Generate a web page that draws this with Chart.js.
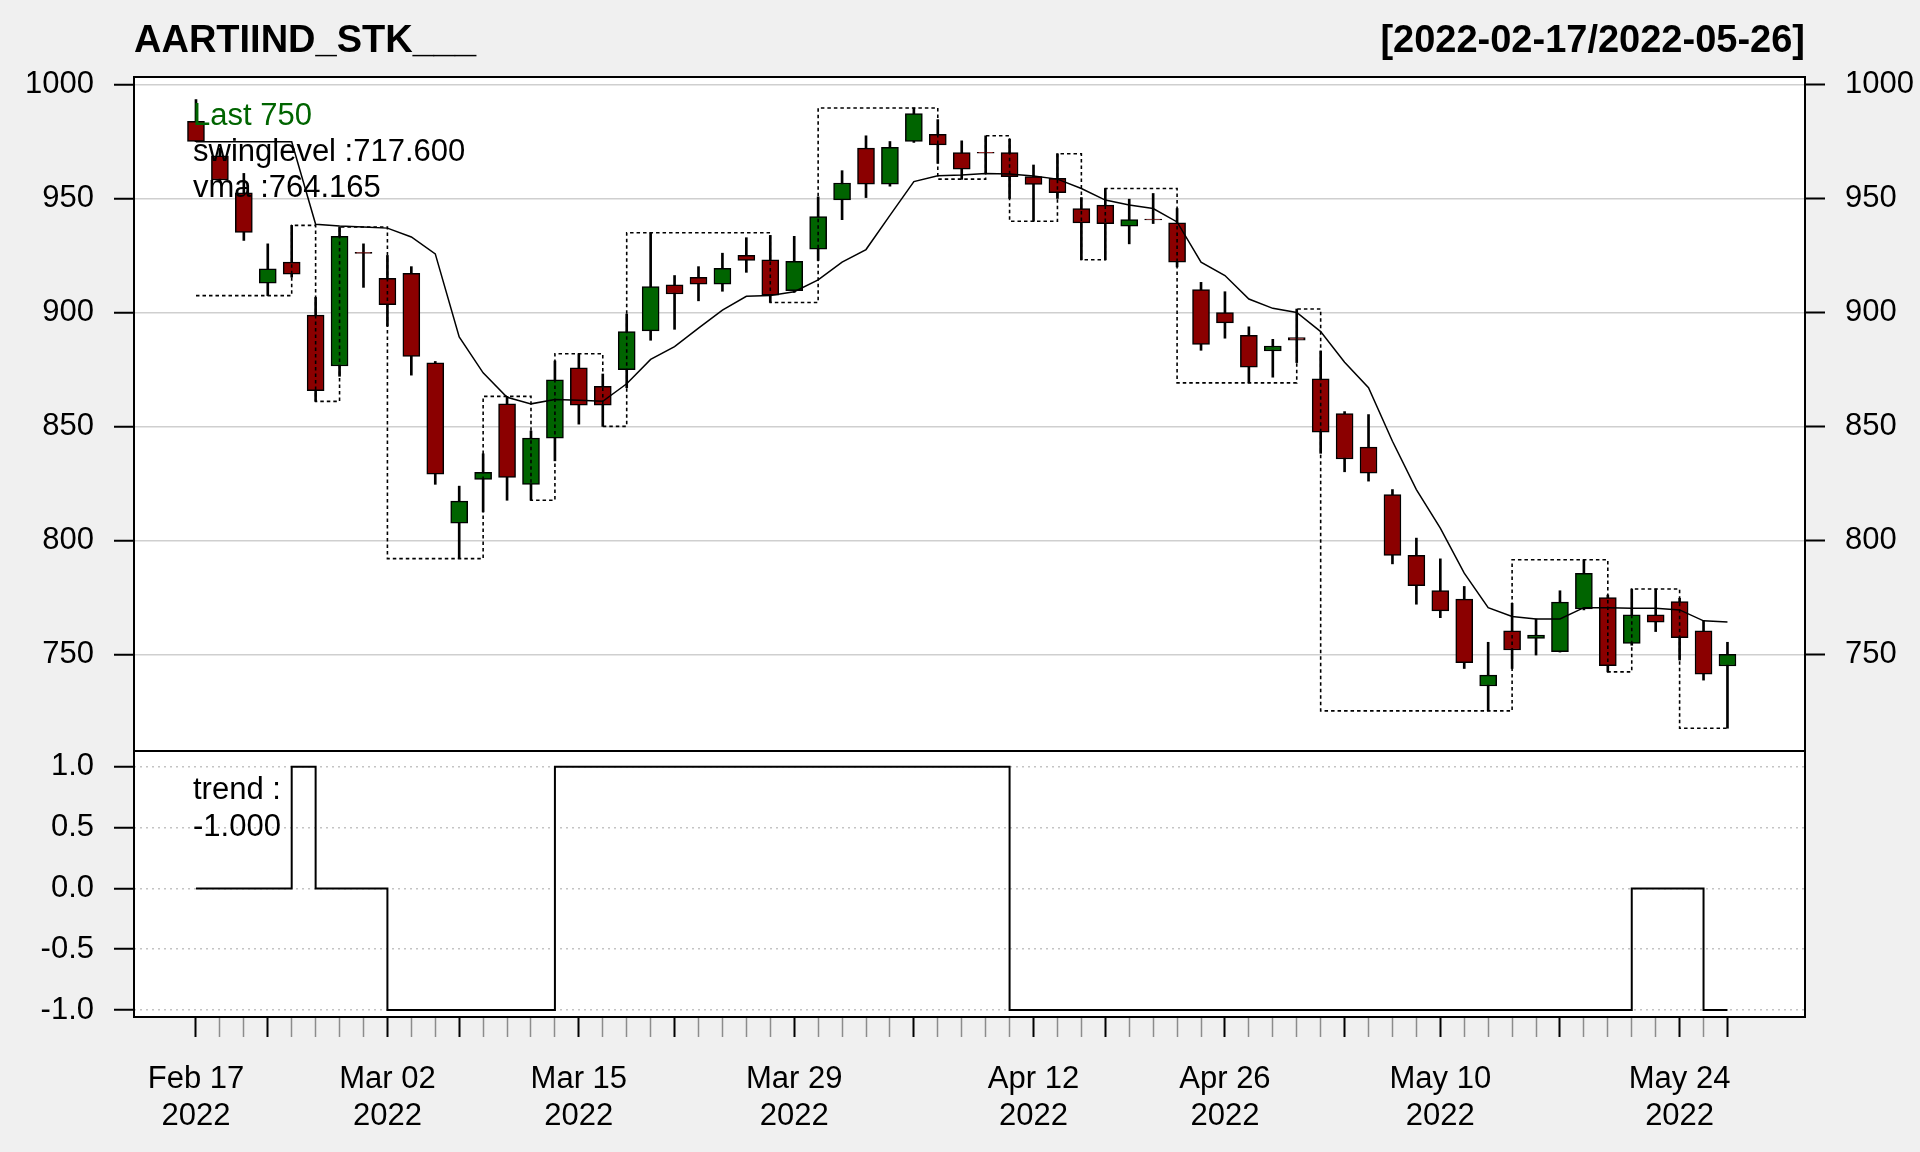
<!DOCTYPE html>
<html>
<head>
<meta charset="utf-8">
<script src="https://cdn.jsdelivr.net/npm/chart.js@4.4.1/dist/chart.umd.min.js"></script>
<style>
  html, body { margin: 0; padding: 0; background: #f0f0f0; }
  #wrap { position: relative; width: 1920px; height: 1152px; overflow: hidden; }
  #wrap canvas { position: absolute; left: 0; }
  #price { top: 0; }
  #trend { top: 711px; }
</style>
</head>
<body>
<div id="wrap">
  <canvas id="price" width="1920" height="791"></canvas>
  <canvas id="trend" width="1920" height="441"></canvas>
</div>
<script>
// Chart data
const symbol = 'AARTIIND_STK___';
const dates = [
  '2022-02-17', '2022-02-18', '2022-02-21', '2022-02-22', '2022-02-23', '2022-02-24', '2022-02-25', '2022-02-28',
  '2022-03-02', '2022-03-03', '2022-03-07', '2022-03-08', '2022-03-09', '2022-03-10', '2022-03-11', '2022-03-14',
  '2022-03-15', '2022-03-16', '2022-03-17', '2022-03-21', '2022-03-22', '2022-03-23', '2022-03-24', '2022-03-25',
  '2022-03-28', '2022-03-29', '2022-03-30', '2022-03-31', '2022-04-01', '2022-04-04', '2022-04-05', '2022-04-06',
  '2022-04-07', '2022-04-08', '2022-04-11', '2022-04-12', '2022-04-13', '2022-04-18', '2022-04-19', '2022-04-20',
  '2022-04-21', '2022-04-22', '2022-04-25', '2022-04-26', '2022-04-27', '2022-04-28', '2022-04-29', '2022-05-02',
  '2022-05-04', '2022-05-05', '2022-05-06', '2022-05-09', '2022-05-10', '2022-05-11', '2022-05-12', '2022-05-13',
  '2022-05-16', '2022-05-17', '2022-05-18', '2022-05-19', '2022-05-20', '2022-05-23', '2022-05-24', '2022-05-25',
  '2022-05-26'
];

const open = [
  983.8, 968.7, 952.5, 912.9, 922.1, 898.8, 876.5, 926.4, 915.0, 917.2, 877.9, 807.6, 826.8, 859.9, 824.6, 844.9,
  875.7, 867.6, 874.9, 891.9, 912.1, 915.4, 912.4, 925.1, 923.1, 909.6, 927.8, 949.4, 972.1, 956.3, 975.0, 978.2,
  970.1, 970.3, 970.1, 959.6, 958.8, 945.6, 947.1, 937.9, 941.0, 939.3, 910.0, 900.0, 890.0, 883.1, 889.0, 870.9,
  855.6, 840.9, 820.1, 793.4, 778.0, 774.2, 736.1, 760.3, 757.0, 751.2, 769.9, 774.9, 754.8, 767.3, 773.2, 760.3,
  744.9
];
const high = [
  993.4, 972.0, 961.0, 930.1, 938.2, 906.6, 937.5, 930.1, 925.0, 920.1, 878.5, 823.8, 838.0, 863.2, 848.0, 878.7,
  881.9, 873.0, 899.3, 935.0, 916.2, 920.1, 926.0, 932.8, 933.8, 933.4, 950.7, 962.2, 977.5, 975.0, 989.7, 984.6,
  975.3, 977.5, 976.0, 964.7, 969.6, 950.4, 954.4, 949.7, 952.2, 945.6, 913.2, 909.1, 893.7, 888.2, 901.5, 883.1,
  856.5, 855.2, 822.3, 801.0, 791.9, 779.8, 755.3, 772.4, 765.5, 777.9, 791.5, 776.0, 778.7, 778.7, 774.6, 764.7,
  755.3
];
const low = [
  974.9, 957.5, 931.6, 907.4, 915.5, 861.0, 872.0, 911.0, 894.0, 872.5, 824.6, 792.0, 812.5, 817.6, 817.6, 834.9,
  851.0, 850.0, 867.0, 887.8, 892.6, 905.1, 909.3, 917.6, 904.4, 908.8, 922.8, 940.7, 950.4, 955.4, 974.6, 965.4,
  958.4, 961.0, 950.0, 940.0, 950.0, 923.1, 923.1, 930.1, 939.0, 920.0, 883.4, 888.7, 869.1, 871.6, 878.0, 838.2,
  830.1, 826.0, 789.7, 772.0, 766.1, 743.8, 725.2, 743.8, 749.7, 751.0, 769.5, 742.3, 754.0, 760.0, 747.5, 738.7,
  717.6
];
const close = [
  975.0, 958.1, 935.1, 919.1, 916.8, 865.7, 933.4, 925.9, 903.4, 880.7, 829.1, 817.2, 829.9, 827.6, 844.9, 870.4,
  859.3, 859.3, 891.6, 911.3, 908.1, 912.4, 919.4, 922.8, 907.6, 922.4, 942.1, 956.8, 956.3, 972.4, 987.2, 973.5,
  962.9, 969.9, 959.6, 956.2, 952.6, 939.3, 939.0, 940.7, 940.6, 922.1, 886.0, 895.4, 876.0, 885.3, 887.8, 847.5,
  835.7, 829.5, 793.4, 780.1, 769.1, 746.3, 740.9, 751.9, 758.5, 772.9, 785.6, 745.0, 767.3, 764.1, 757.3, 741.3,
  750.0
];
const vma = [
  974.9, 974.9, 974.9, 974.9, 974.9, 938.7, 937.9, 937.5, 937.0, 933.1, 925.7, 889.3, 873.5, 862.8, 859.9, 861.8,
  861.5, 861.0, 868.7, 879.4, 885.0, 893.1, 901.0, 907.1, 907.4, 909.1, 914.3, 922.1, 927.6, 942.6, 957.4, 960.0,
  960.3, 961.0, 960.7, 959.9, 958.5, 954.4, 949.3, 947.1, 945.6, 939.7, 922.1, 916.2, 905.9, 901.8, 900.0, 891.6,
  878.2, 867.0, 843.5, 822.3, 805.4, 785.6, 770.5, 766.6, 765.5, 765.5, 770.5, 770.5, 770.2, 770.2, 769.5, 764.7,
  764.165
];
const swinglevel = [
  907.4, 907.4, 907.4, 907.4, 938.2, 861.0, 937.5, 937.5, 792.0, 792.0, 792.0, 792.0, 863.2, 863.2, 817.6, 881.9,
  881.9, 850.0, 935.0, 935.0, 935.0, 935.0, 935.0, 935.0, 904.4, 904.4, 989.7, 989.7, 989.7, 989.7, 989.7, 958.5,
  958.5, 977.5, 940.0, 940.0, 969.6, 923.1, 954.4, 954.4, 954.4, 869.1, 869.1, 869.1, 869.1, 869.1, 901.5, 725.2,
  725.2, 725.2, 725.2, 725.2, 725.2, 725.2, 725.2, 791.5, 791.5, 791.5, 791.5, 742.3, 778.7, 778.7, 717.6, 717.6,
  717.6
];
const trend = [
  0, 0, 0, 0, 1, 0, 0, 0, -1, -1, -1, -1, -1, -1, -1, 1,
  1, 1, 1, 1, 1, 1, 1, 1, 1, 1, 1, 1, 1, 1, 1, 1,
  1, 1, -1, -1, -1, -1, -1, -1, -1, -1, -1, -1, -1, -1, -1, -1,
  -1, -1, -1, -1, -1, -1, -1, -1, -1, -1, -1, -1, 0, 0, 0, -1,
  -1
];

// Axis ticks
const priceTicks = [750, 800, 850, 900, 950, 1000];
const trendTicks = [-1, -0.5, 0, 0.5, 1];
const labelDates = ['2022-02-17', '2022-03-02', '2022-03-15', '2022-03-29', '2022-04-12', '2022-04-26', '2022-05-10', '2022-05-24'];
const majorDates = ['2022-02-17', '2022-02-22', '2022-03-02', '2022-03-08', '2022-03-15', '2022-03-22', '2022-03-29',
  '2022-04-05', '2022-04-12', '2022-04-19', '2022-04-26', '2022-05-04', '2022-05-10', '2022-05-17', '2022-05-24', '2022-05-26'];

const MONTHS = ['Jan', 'Feb', 'Mar', 'Apr', 'May', 'Jun', 'Jul', 'Aug', 'Sep', 'Oct', 'Nov', 'Dec'];
const FONT = '"Liberation Sans", Arial, Helvetica, sans-serif';
const RED = '#8b0000';
const GREEN = '#006400';

// index range shown on the x axis
const xMin = -2.59;
const xMax = 67.24;

const idx = dates.map((d, i) => i);
const last = dates.length - 1;

function dateLabel(i) {
  const p = dates[i].split('-');
  return [MONTHS[+p[1] - 1] + ' ' + p[2], p[0]];
}

// white panel, black frame and text
const panelPlugin = {
  id: 'panel',
  beforeDraw(chart) {
    const a = chart.chartArea, ctx = chart.ctx;
    ctx.save();
    ctx.fillStyle = '#ffffff';
    ctx.fillRect(a.left, a.top, a.right - a.left, a.bottom - a.top);
    ctx.restore();
  },
  afterDraw(chart, args, opts) {
    const a = chart.chartArea, ctx = chart.ctx;
    ctx.save();
    ctx.strokeStyle = '#000';
    ctx.lineWidth = 2;
    ctx.strokeRect(a.left, a.top, a.right - a.left, a.bottom - a.top);
    (opts.texts || []).forEach(t => {
      ctx.font = t.font;
      ctx.fillStyle = t.color || '#000';
      ctx.textAlign = t.align || 'left';
      ctx.textBaseline = 'alphabetic';
      const x = t.align === 'right' ? a.right + t.dx : a.left + t.dx;
      ctx.fillText(t.text, x, a.top + t.dy);
    });
    ctx.restore();
  }
};

const tickFont = { family: FONT, size: 31 };

// Price panel
const priceChart = new Chart(document.getElementById('price'), {
  type: 'bar',
  data: {
    datasets: [
      {
        type: 'line',
        label: 'vma',
        data: idx.map(i => ({ x: i, y: vma[i] })),
        borderColor: '#000',
        borderWidth: 1.5,
        pointRadius: 0,
        tension: 0,
        order: 0
      },
      {
        type: 'line',
        label: 'swinglevel',
        data: idx.map(i => ({ x: i, y: swinglevel[i] })),
        borderColor: '#000',
        borderWidth: 1.6,
        borderDash: [3.5, 3],
        stepped: true,
        pointRadius: 0,
        order: 0
      },
      {
        label: 'body',
        data: idx.map(i => ({ x: i, y: [open[i], close[i]] })),
        backgroundColor: idx.map(i => close[i] >= open[i] ? GREEN : RED),
        borderColor: '#000',
        borderWidth: 1.5,
        borderSkipped: false,
        barThickness: 17,
        grouped: false,
        order: 1
      },
      {
        label: 'wick',
        data: idx.map(i => ({ x: i, y: [low[i], high[i]] })),
        backgroundColor: '#000',
        borderWidth: 0,
        barThickness: 2,
        grouped: false,
        order: 2
      }
    ]
  },
  options: {
    responsive: false,
    animation: false,
    devicePixelRatio: 1,
    layout: { padding: { top: 77, bottom: 40, left: 0, right: 0 } },
    plugins: {
      legend: { display: false },
      tooltip: { enabled: false },
      panel: {
        texts: [
          { text: symbol, font: 'bold 38px ' + FONT, dx: 0, dy: -25 },
          { text: '[' + dates[0] + '/' + dates[last] + ']', font: 'bold 38px ' + FONT, align: 'right', dx: 0, dy: -25 },
          { text: 'Last ' + close[last], font: '31px ' + FONT, color: GREEN, dx: 59, dy: 48 },
          { text: 'swinglevel :' + swinglevel[last].toFixed(3), font: '31px ' + FONT, dx: 59, dy: 84 },
          { text: 'vma :' + vma[last].toFixed(3), font: '31px ' + FONT, dx: 59, dy: 120 }
        ]
      }
    },
    scales: {
      x: { type: 'linear', min: xMin, max: xMax, offset: false, display: false },
      y: {
        position: 'left',
        min: 707.6,
        max: 1003.3,
        afterBuildTicks: s => { s.ticks = priceTicks.map(v => ({ value: v })); },
        afterFit: s => { s.width = 134; },
        grid: { color: '#cfcfcf', lineWidth: 1.5, tickColor: '#000', tickWidth: 2, tickLength: 20 },
        border: { display: false },
        ticks: { font: tickFont, color: '#000', padding: 20, callback: v => String(v) }
      },
      yRight: {
        position: 'right',
        min: 707.6,
        max: 1003.3,
        afterBuildTicks: s => { s.ticks = priceTicks.map(v => ({ value: v })); },
        afterFit: s => { s.width = 115; },
        grid: { drawOnChartArea: false, tickColor: '#000', tickWidth: 2, tickLength: 20 },
        border: { display: false },
        ticks: { font: tickFont, color: '#000', padding: 20, callback: v => String(v) }
      }
    }
  },
  plugins: [panelPlugin]
});

// Trend panel
const trendChart = new Chart(document.getElementById('trend'), {
  type: 'line',
  data: {
    datasets: [{
      label: 'trend',
      data: idx.map(i => ({ x: i, y: trend[i] })),
      borderColor: '#000',
      borderWidth: 2,
      stepped: true,
      pointRadius: 0
    }]
  },
  options: {
    responsive: false,
    animation: false,
    devicePixelRatio: 1,
    layout: { padding: { top: 40, bottom: 0, left: 0, right: 115 } },
    plugins: {
      legend: { display: false },
      tooltip: { enabled: false },
      panel: {
        texts: [
          { text: 'trend :', font: '31px ' + FONT, dx: 59, dy: 48 },
          { text: trend[last].toFixed(3), font: '31px ' + FONT, dx: 59, dy: 85 }
        ]
      }
    },
    scales: {
      x: {
        type: 'linear',
        min: xMin,
        max: xMax,
        offset: false,
        afterBuildTicks: s => { s.ticks = idx.map(i => ({ value: i })); },
        afterFit: s => { s.height = 135; },
        grid: {
          drawOnChartArea: false,
          tickLength: 20,
          tickColor: c => (c.tick && majorDates.includes(dates[c.tick.value])) ? '#000' : '#8c8c8c',
          tickWidth: c => (c.tick && majorDates.includes(dates[c.tick.value])) ? 2 : 1.5
        },
        border: { display: false },
        ticks: {
          autoSkip: false,
          maxRotation: 0,
          font: tickFont,
          color: '#000',
          padding: 24,
          callback: v => labelDates.includes(dates[v]) ? dateLabel(v) : ''
        }
      },
      y: {
        position: 'left',
        min: -1.057,
        max: 1.129,
        afterBuildTicks: s => { s.ticks = trendTicks.map(v => ({ value: v })); },
        afterFit: s => { s.width = 134; },
        grid: { color: '#c4c4c4', lineWidth: 1.5, tickColor: '#000', tickWidth: 2, tickLength: 20 },
        border: { display: false, dash: [2, 4] },
        ticks: { font: tickFont, color: '#000', padding: 20, callback: v => v.toFixed(1) }
      }
    }
  },
  plugins: [panelPlugin]
});
</script>
</body>
</html>
